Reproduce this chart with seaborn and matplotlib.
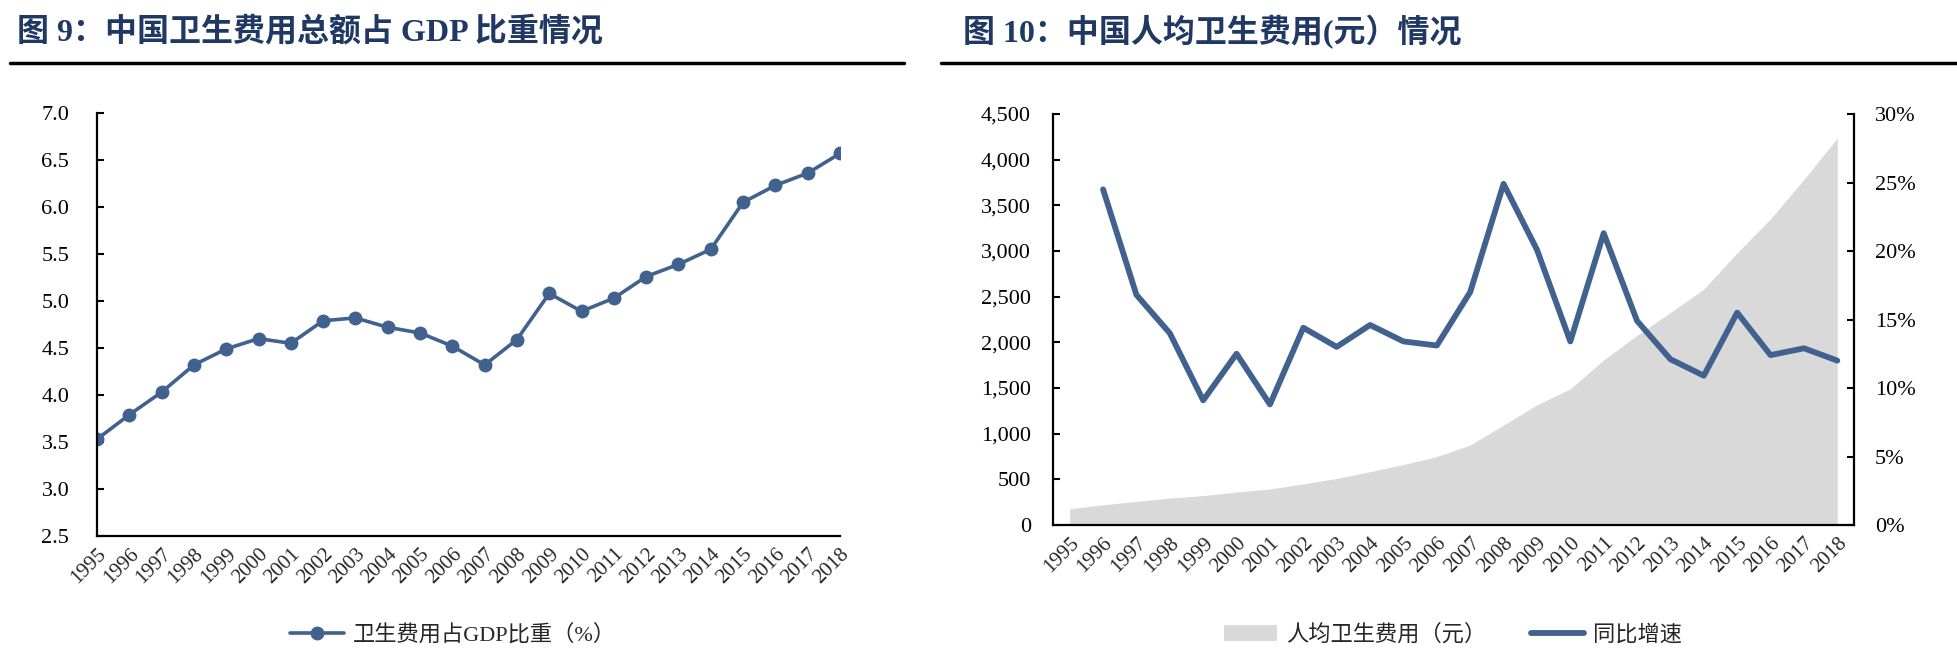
import matplotlib
matplotlib.use("Agg")
import numpy as np
import matplotlib.pyplot as plt
import matplotlib.ticker as mticker
from matplotlib.lines import Line2D
from matplotlib.patches import Patch
import seaborn as sns

# data
years = ["1995", "1996", "1997", "1998", "1999", "2000", "2001", "2002",
         "2003", "2004", "2005", "2006", "2007", "2008", "2009", "2010",
         "2011", "2012", "2013", "2014", "2015", "2016", "2017", "2018"]
gdp_share = [3.53, 3.79, 4.03, 4.32, 4.49, 4.60, 4.55, 4.79, 4.82, 4.72, 4.66, 4.52,
             4.32, 4.59, 5.08, 4.89, 5.03, 5.26, 5.39, 5.55, 6.05, 6.23, 6.36, 6.57]
per_capita = [177.9, 221.4, 258.6, 294.9, 321.8, 361.9, 393.8, 450.7, 509.5, 583.9,
              662.3, 748.8, 876.0, 1094.5, 1314.3, 1490.1, 1807.0, 2076.7, 2327.4,
              2581.7, 2980.8, 3351.7, 3783.8, 4237.0]
growth_years = years[1:]
growth_pct = [24.5, 16.8, 14.0, 9.1, 12.5, 8.8, 14.4, 13.0, 14.6, 13.4, 13.1, 17.0,
              24.9, 20.1, 13.4, 21.3, 14.9, 12.1, 10.9, 15.5, 12.4, 12.9, 12.0]

sns.set_theme(style="white")
plt.rcParams["font.family"] = ["Liberation Serif", "Noto Sans CJK SC", "DejaVu Sans"]

blue = "#41618F"
grey = "#D9D9D9"
title_color = "#1F3864"
cjk = ["Liberation Serif", "Noto Sans CJK SC"]

fig = plt.figure(figsize=(19.58, 6.7), dpi=100)

# ---- titles and underlines
fig.text(17 / 1958, 1 - 32 / 670, "图 9：中国卫生费用总额占 GDP 比重情况", family=cjk,
         fontsize=23, weight="bold", color=title_color, va="center", ha="left")
fig.text(963 / 1958, 1 - 32 / 670, "图 10：中国人均卫生费用(元）情况", family=cjk,
         fontsize=23, weight="bold", color=title_color, va="center", ha="left")
fig.add_artist(Line2D([10 / 1958, 904 / 1958], [1 - 63 / 670] * 2, color="black", lw=2.5))
fig.add_artist(Line2D([941 / 1958, 1.0], [1 - 63 / 670] * 2, color="black", lw=2.5))

pos = np.arange(len(years))

# ---- left chart: share of GDP
ax1 = fig.add_axes([97 / 1958, 1 - 536 / 670, 743 / 1958, 423 / 670])
sns.lineplot(x=pos, y=gdp_share, ax=ax1, color=blue, linewidth=2.6,
             marker="o", markersize=10, markeredgewidth=0)
ax1.set_xlim(0, len(years) - 1)
ax1.set_ylim(2.5, 7.0)
ax1.yaxis.set_major_locator(mticker.MultipleLocator(0.5))
ax1.yaxis.set_major_formatter(mticker.FormatStrFormatter("%.1f"))
ax1.set_xticks(pos)
ax1.set_xticklabels(years, rotation=45, ha="right", rotation_mode="anchor")
sns.despine(ax=ax1)

# ---- right chart: per-capita spending and growth
ax2 = fig.add_axes([1053 / 1958, 1 - 525 / 670, 801 / 1958, 411 / 670])
ax2.fill_between(pos, per_capita, color=grey, linewidth=0)
ax2.set_xlim(-0.5, len(years) - 0.5)
ax2.set_ylim(0, 4500)
ax2.yaxis.set_major_locator(mticker.MultipleLocator(500))
ax2.yaxis.set_major_formatter(mticker.StrMethodFormatter("{x:,.0f}"))
ax2.set_xticks(pos)
ax2.set_xticklabels(years, rotation=45, ha="right", rotation_mode="anchor")
sns.despine(ax=ax2)

ax3 = ax2.twinx()
sns.lineplot(x=pos[1:], y=growth_pct, ax=ax3, color=blue, linewidth=4.2)
ax3.set_ylim(0, 30)
ax3.yaxis.set_major_locator(mticker.MultipleLocator(5))
ax3.yaxis.set_major_formatter(mticker.FormatStrFormatter("%d%%"))
for s in ["top", "left", "bottom"]:
    ax3.spines[s].set_visible(False)

for ax in (ax1, ax2, ax3):
    for s in ax.spines.values():
        s.set_color("black")
        s.set_linewidth(1.6)
    ax.tick_params(axis="y", direction="in", length=5, width=1.5, labelsize=16,
                   colors="black", left=(ax is not ax3), right=(ax is ax3))
    ax.tick_params(axis="x", length=0, labelsize=15, pad=6)
    ax.set_xlabel("")
    ax.set_ylabel("")
    ax.grid(False)
ax1.tick_params(axis="y", pad=20)
ax2.tick_params(axis="y", pad=16)
ax3.tick_params(axis="y", pad=15, labelright=True, labelleft=False)

# ---- legends
h1 = [Line2D([], [], color=blue, lw=2.6, marker="o", markersize=10, markeredgewidth=0)]
fig.legend(h1, ["卫生费用占GDP比重（%）"], loc="center", bbox_to_anchor=(453 / 1958, 1 - 635 / 670),
           frameon=False, prop={"family": cjk, "size": 16}, handlelength=2.4, handletextpad=0.4)
h2 = [Patch(facecolor=grey, edgecolor="none"), Line2D([], [], color=blue, lw=4.2)]
fig.legend(h2, ["人均卫生费用（元）", "同比增速"], loc="center", ncol=2,
           bbox_to_anchor=(1453 / 1958, 1 - 635 / 670), frameon=False,
           prop={"family": cjk, "size": 16}, handlelength=2.4, handleheight=0.7,
           handletextpad=0.4, columnspacing=2.0)

fig.savefig("out.png", dpi=100)
